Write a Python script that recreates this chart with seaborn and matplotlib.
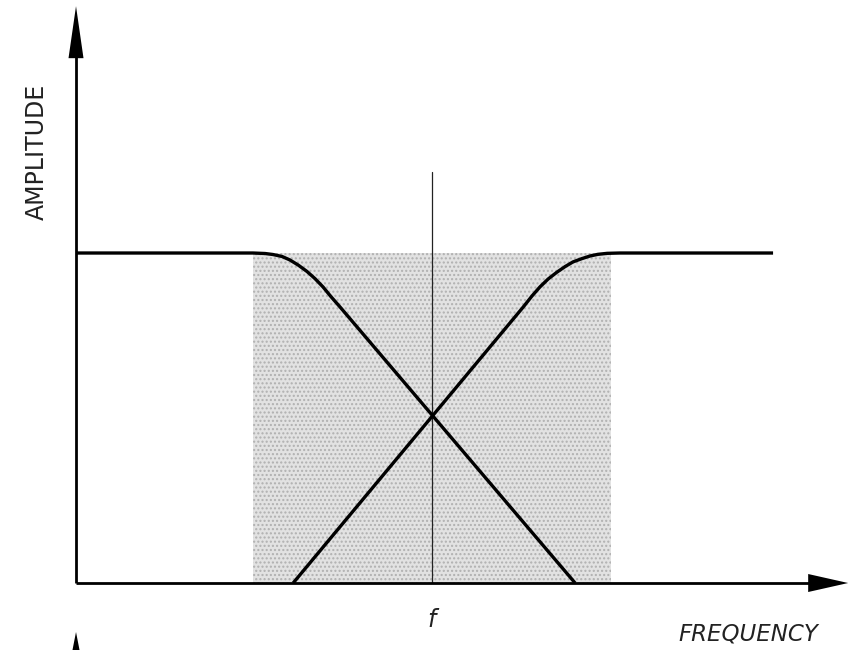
import numpy as np
import pandas as pd
import matplotlib
matplotlib.use("Agg")
import matplotlib.pyplot as plt
import seaborn as sns

# ---- data (frequency in units of f, amplitude normalised to passband = 1) ----
lowpass_freq = [0.000, 0.497, 0.531, 0.553, 0.579, 0.601, 0.624, 0.649, 0.671, 0.694, 0.716, 0.742, 1.402]
lowpass_amp = [1.000, 1.000, 0.9985, 0.9955, 0.9894, 0.9788, 0.9636, 0.9439, 0.9227, 0.897, 0.868, 0.836, 0.000]

highpass_freq = [0.610, 1.256, 1.281, 1.303, 1.326, 1.351, 1.374, 1.396, 1.421, 1.444, 1.466, 1.492, 1.528, 1.958]
highpass_amp = [0.000, 0.836, 0.870, 0.897, 0.921, 0.942, 0.959, 0.973, 0.983, 0.991, 0.996, 0.999, 1.000, 1.000]

band_limits = [0.497, 1.503]        # shaded transition band
center_freq = 1.0                   # f
center_line_top = 1.245
x_axis_end = 2.169
y_axis_end = 1.748

x_label = "FREQUENCY"
y_label = "AMPLITUDE"
center_label = "f"

# ---- figure ----
sns.set_style("white")
plt.rcParams["font.family"] = ["DejaVu Sans"]

fig = plt.figure(figsize=(8.48, 6.5), dpi=100)
ax = fig.add_axes([0, 0, 1, 1])
ax.set_xlim(-0.2135, 2.1685)
ax.set_ylim(-0.2030, 1.7667)
ax.axis("off")

# pixel scales (for arrowhead sizing)
sx = 356.0
sy = 330.0

# shaded band
ax.fill_between(band_limits, 0, 1, facecolor="#e2e2e2", edgecolor="#b0b0b0",
                hatch="....", linewidth=0, zorder=1)

# centre line
ax.plot([center_freq, center_freq], [0, center_line_top], color="#222222", lw=0.9, zorder=2)

# curves
df_lp = pd.DataFrame({"freq": lowpass_freq, "amp": lowpass_amp})
df_hp = pd.DataFrame({"freq": highpass_freq, "amp": highpass_amp})
for df in (df_lp, df_hp):
    sns.lineplot(data=df, x="freq", y="amp", sort=False, color="black", lw=2.4, ax=ax,
                 zorder=3, solid_joinstyle="round", solid_capstyle="butt")

# axes lines
ax.plot([0, 0], [0, y_axis_end - 50 / sy], color="black", lw=2.0, solid_capstyle="butt", zorder=4)
ax.plot([0, x_axis_end - 38 / sx], [0, 0], color="black", lw=2.0, solid_capstyle="butt", zorder=4)

# arrowheads
ax.fill([0, -7.5 / sx, 7.5 / sx], [y_axis_end, y_axis_end - 52 / sy, y_axis_end - 52 / sy],
        color="black", lw=0, zorder=5)
ax.fill([x_axis_end, x_axis_end - 40 / sx, x_axis_end - 40 / sx], [0, 9 / sy, -9 / sy],
        color="black", lw=0, zorder=5)
# partial arrowhead of the next drawing at bottom-left
ax.fill([0, -4.5 / sx, 4.5 / sx], [-49 / sy, -72 / sy, -72 / sy], color="black", lw=0, zorder=5)

# labels
ax.text(37 / sx - 76 / sx, (583 - 152) / sy, y_label, rotation=90, ha="center", va="center",
        fontsize=17, color="#222222")
ax.text((748 - 76) / sx, -(634 - 583) / sy, x_label, ha="center", va="center",
        fontsize=16.5, style="italic", color="#222222")
ax.text(center_freq, -(620 - 583) / sy, center_label, ha="center", va="center",
        fontsize=17, style="italic", color="#222222")

fig.savefig("out.png", dpi=100, facecolor="white")
